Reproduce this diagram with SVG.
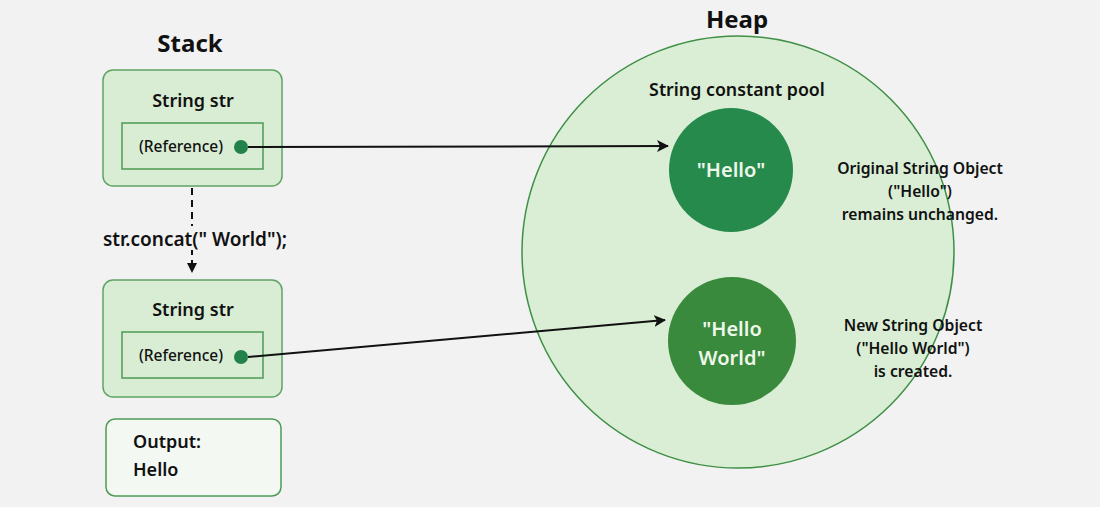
<svg xmlns="http://www.w3.org/2000/svg" width="1100" height="507" viewBox="0 0 1100 507">
<defs>
<style>
text{font-family:"Noto Sans","Open Sans","Liberation Sans",sans-serif;fill:#111;}
.title{font-size:24px;font-weight:700;}
.lbl{font-size:18px;font-weight:600;}
.pool{font-size:17.8px;font-weight:600;}
.sm{font-size:15.5px;font-weight:500;}
.side{font-size:15.7px;font-weight:600;}
.obj{font-size:20px;font-weight:600;fill:#eef7ea;}
.box{fill:#d8edd3;stroke:#5fa464;stroke-width:1.5;}
.inner{fill:#d8edd3;stroke:#4e9a55;stroke-width:1.5;}
.dot{fill:#238249;}
.conn{stroke:#111;stroke-width:2;fill:none;}
</style>
<marker id="ah" viewBox="0 0 12 12" refX="11" refY="6" markerWidth="12" markerHeight="12" markerUnits="userSpaceOnUse" orient="auto">
<path d="M0,0 L12,6 L0,12 L3,6 Z" fill="#111"/>
</marker>
<marker id="ah2" viewBox="0 0 10 10" refX="9" refY="5" markerWidth="10" markerHeight="10" markerUnits="userSpaceOnUse" orient="auto">
<path d="M0,0 L10,5 L0,10 Z" fill="#111"/>
</marker>
</defs>
<rect width="1100" height="507" fill="#f2f2f2"/>

<g id="heap">
<circle cx="738" cy="252" r="216" fill="#d9eed5" stroke="#3f8f45" stroke-width="1.5"/>
<text class="title" x="737" y="28" text-anchor="middle">Heap</text>
<text class="pool" x="737" y="96" text-anchor="middle">String constant pool</text>
</g>

<g id="hello">
<circle cx="731" cy="170" r="62" fill="#268a4d"/>
<text class="obj" x="731" y="177" text-anchor="middle">"Hello"</text>
</g>

<g id="helloworld">
<circle cx="732" cy="341" r="64" fill="#3a8a3d"/>
<text class="obj" x="732" y="336" text-anchor="middle">"Hello</text>
<text class="obj" x="732" y="365" text-anchor="middle">World"</text>
</g>

<g id="note1">
<text class="side" x="920" y="174" text-anchor="middle">Original String Object</text>
<text class="side" x="920" y="197" text-anchor="middle">("Hello")</text>
<text class="side" x="920" y="220" text-anchor="middle">remains unchanged.</text>
</g>

<g id="note2">
<text class="side" x="913" y="331" text-anchor="middle">New String Object</text>
<text class="side" x="913" y="354" text-anchor="middle">("Hello World")</text>
<text class="side" x="913" y="377" text-anchor="middle">is created.</text>
</g>

<g id="stack">
<text class="title" x="190" y="52" text-anchor="middle">Stack</text>
</g>

<g id="str1">
<rect class="box" x="103" y="70" width="179" height="116" rx="10"/>
<text class="lbl" x="193" y="107" text-anchor="middle">String str</text>
<rect class="inner" x="122" y="123" width="141" height="46"/>
<text class="sm" x="181" y="152" text-anchor="middle">(Reference)</text>
<circle class="dot" cx="241" cy="147" r="7"/>
</g>

<g id="str2">
<rect class="box" x="103" y="280" width="179" height="117" rx="10"/>
<text class="lbl" x="193" y="316" text-anchor="middle">String str</text>
<rect class="inner" x="122" y="332" width="141" height="46"/>
<text class="sm" x="181" y="361" text-anchor="middle">(Reference)</text>
<circle class="dot" cx="241" cy="357" r="7"/>
</g>

<g id="output">
<rect x="106" y="419" width="175" height="77" rx="9" fill="#f4f8f2" stroke="#4e9a55" stroke-width="1.5"/>
<text class="lbl" x="133" y="448">Output:</text>
<text class="lbl" x="133" y="476">Hello</text>
</g>

<g id="connectors">
<line class="conn" x1="248" y1="147" x2="668" y2="146" marker-end="url(#ah)"/>
<line class="conn" x1="248" y1="357" x2="665" y2="320" marker-end="url(#ah)"/>
<line x1="192" y1="188" x2="192" y2="272" stroke="#111" stroke-width="2" stroke-dasharray="7,5" marker-end="url(#ah2)"/>
<rect x="100" y="226" width="194" height="24" fill="#f2f2f2"/>
<text x="195" y="246" text-anchor="middle" style="font-size:19px;font-weight:600;">str.concat(" World");</text>
</g>
</svg>
